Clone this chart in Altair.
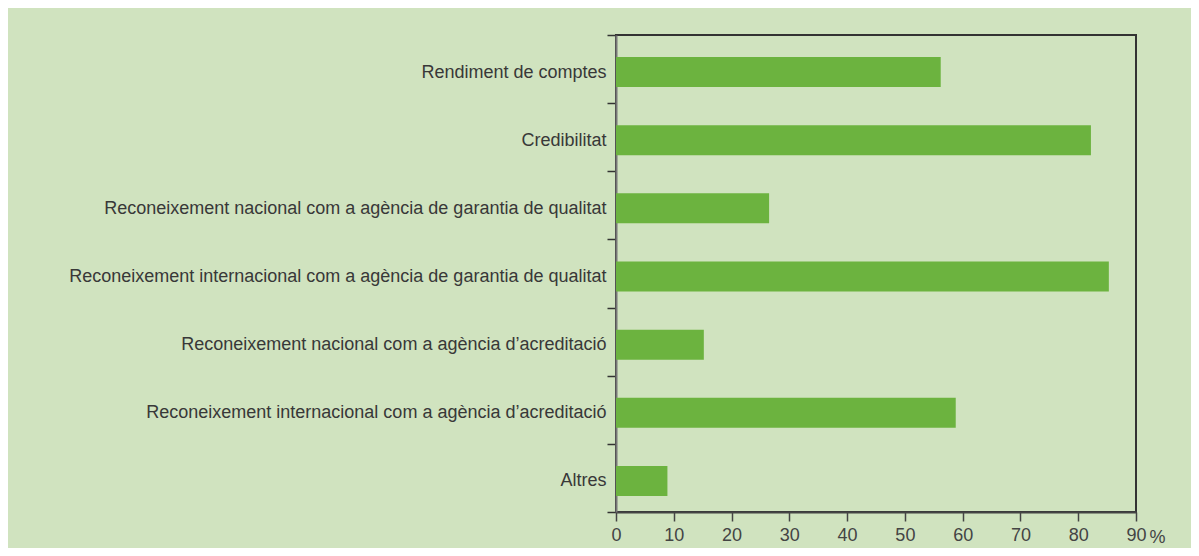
import altair as alt
import pandas as pd

categories = [
    "Rendiment de comptes",
    "Credibilitat",
    "Reconeixement nacional com a agència de garantia de qualitat",
    "Reconeixement internacional com a agència de garantia de qualitat",
    "Reconeixement nacional com a agència d\u2019acreditació",
    "Reconeixement internacional com a agència d\u2019acreditació",
    "Altres",
]
values = [56.2, 82.2, 26.5, 85.3, 15.2, 58.8, 8.9]
x_ticks = [0, 10, 20, 30, 40, 50, 60, 70, 80, 90]

df = pd.DataFrame({"cat": categories, "val": values})

FONT = "Liberation Sans"
BG = "#d0e3bf"
BAR = "#6cb33f"

chart = alt.Chart(df).mark_bar(color=BAR, yOffset=3, height=30).encode(
    x=alt.X(
        "val:Q",
        scale=alt.Scale(domain=[0, 90], nice=False),
        axis=alt.Axis(
            values=x_ticks,
            title="%",
            titleX=541,
            titleY=25,
            titleAlign="center",
            titleBaseline="middle",
            titleFont=FONT,
            titleFontSize=18,
            titleFontWeight="normal",
            titleColor="#444",
            grid=False,
            tickSize=9,
            tickColor="#444",
            tickWidth=1.5,
            domainColor="#444",
            domainWidth=2,
            labelFont=FONT,
            labelFontSize=18,
            labelColor="#444",
            labelPadding=5,
            labelFlush=False,
        ),
    ),
    y=alt.Y(
        "cat:N",
        sort=categories,
        scale=alt.Scale(paddingInner=0, paddingOuter=0),
        axis=alt.Axis(
            title=None,
            tickBand="extent",
            tickSize=9,
            tickColor="#333",
            tickWidth=1.5,
            domainColor="#777",
            domainWidth=2,
            labelFont=FONT,
            labelFontSize=18,
            labelColor="#383838",
            labelPadding=1,
            labelOffset=3,
            labelLimit=0,
        ),
    ),
).properties(
    width=520,
    height=477,
    background=BG,
    padding={"left": 608, "top": 27, "right": 55, "bottom": 36},
    autosize=alt.AutoSizeParams(type="none"),
).configure_view(
    stroke="#333",
    strokeWidth=2,
)

chart.save("out.html", embed_options={"renderer": "svg", "actions": False})
